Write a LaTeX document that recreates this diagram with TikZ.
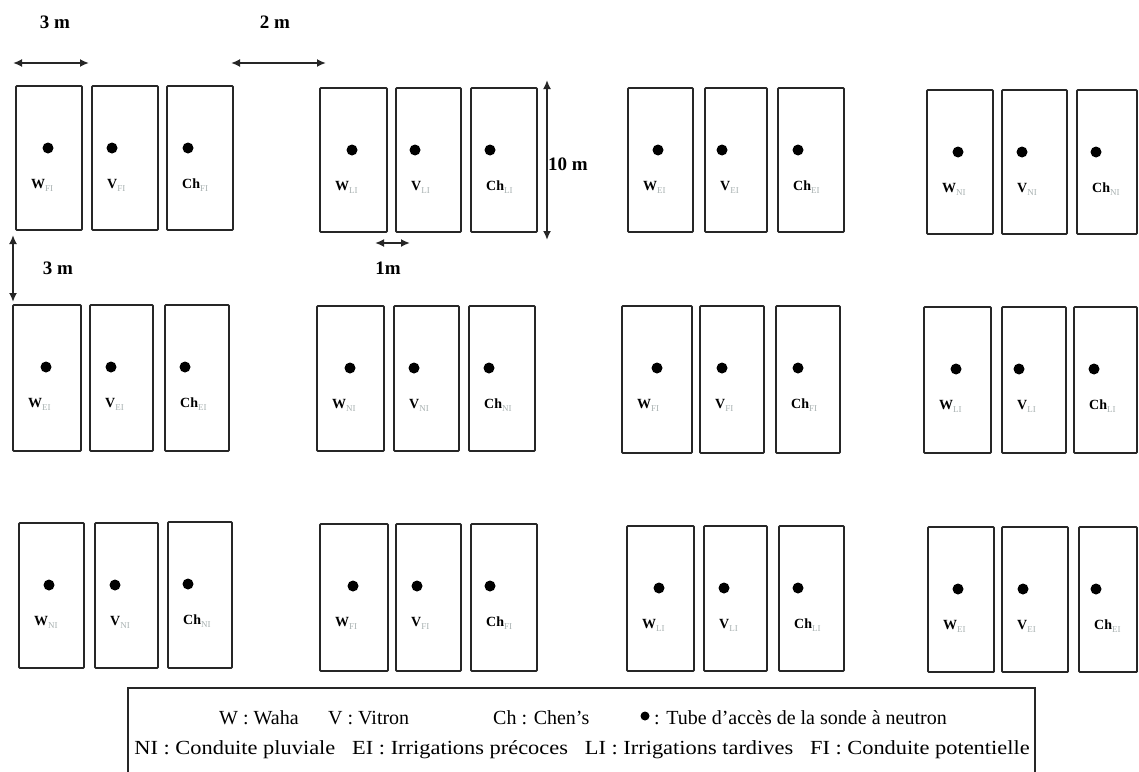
\documentclass[tikz,border=0pt]{standalone}
\usepackage{fontspec}
\setmainfont{Liberation Serif}
\usetikzlibrary{arrows.meta}
\definecolor{linec}{HTML}{262626}
\definecolor{subc}{HTML}{A9B2B2}
\begin{document}
\begin{tikzpicture}[x=1pt,y=-1pt,
  plotbox/.style={draw=linec, line width=1.8pt, inner sep=0pt, rounded corners=0.8pt},
  probe/.style={circle, fill=black, inner sep=0pt, minimum size=11pt},
  plabel/.style={anchor=west, inner sep=0pt, font=\fontsize{14}{14}\selectfont\bfseries},
  dimarrow/.style={draw=linec, line width=2pt, {Latex[length=9pt,width=8pt]}-{Latex[length=9pt,width=8pt]}},
  dimtext/.style={inner sep=0pt, font=\fontsize{19}{19}\selectfont\bfseries},
  legtext/.style={inner sep=0pt, font=\fontsize{20}{20}\selectfont}]
\useasboundingbox (0,0) rectangle (1139,771);
\fill[white] (0,0) rectangle (1139,771);
% plots: x1/y1/x2/y2/kind/sub/dot offset
\foreach \a/\b/\c/\d/\k/\s/\o [count=\i] in {
  16/86/82/230/W/FI/32, 92/86/158/230/V/FI/20, 167/86/233/230/Ch/FI/21,
  320/88/387/232/W/LI/32, 396/88/461/232/V/LI/19, 471/88/537/232/Ch/LI/19,
  628/88/693/232/W/EI/30, 705/88/767/232/V/EI/17, 778/88/844/232/Ch/EI/20,
  927/90/993/234/W/NI/31, 1002/90/1067/234/V/NI/20, 1077/90/1137/234/Ch/NI/19,
  13/305/81/451/W/EI/33, 90/305/153/451/V/EI/21, 165/305/229/451/Ch/EI/20,
  317/306/384/451/W/NI/33, 394/306/459/451/V/NI/20, 469/306/535/451/Ch/NI/20,
  622/306/692/453/W/FI/35, 700/306/764/453/V/FI/22, 776/306/840/453/Ch/FI/22,
  924/307/991/453/W/LI/32, 1002/307/1066/453/V/LI/17, 1074/307/1137/453/Ch/LI/20,
  19/523/84/668/W/NI/30, 95/523/158/668/V/NI/20, 168/522/232/668/Ch/NI/20,
  320/524/388/671/W/FI/33, 396/524/461/671/V/FI/21, 471/524/537/671/Ch/FI/19,
  627/526/694/671/W/LI/32, 704/526/767/671/V/LI/20, 779/526/844/671/Ch/LI/19,
  928/527/994/672/W/EI/30, 1002/527/1068/672/V/EI/21, 1079/527/1137/672/Ch/EI/17}
{
  \pgfmathsetmacro\bw{\c-\a}
  \pgfmathsetmacro\bh{\d-\b}
  \node[plotbox, minimum width=\bw pt, minimum height=\bh pt] (p\i) at ({(\a+\c)/2},{(\b+\d)/2}) {};
  \node[probe] (d\i) at (\a+\o,\b+62) {};
  \node[plabel] (l\i) at (\a+15,\b+99) {\k\raisebox{-3pt}{\fontsize{9}{9}\selectfont\mdseries\color{subc}\s}};
}
% dimensions
\coordinate (h1a) at (13,63); \coordinate (h1b) at (89,63);
\draw[dimarrow] (h1a) -- (h1b);
\node[dimtext] (t1) at (55,22) {3 m};
\coordinate (h2a) at (231,63); \coordinate (h2b) at (326,63);
\draw[dimarrow] (h2a) -- (h2b);
\node[dimtext] (t2) at (275,22) {2 m};
\coordinate (v1a) at (547,80); \coordinate (v1b) at (547,240);
\draw[dimarrow] (v1a) -- (v1b);
\node[dimtext, anchor=west] (t3) at (548,164) {10 m};
\coordinate (h3a) at (375,243); \coordinate (h3b) at (410,243);
\draw[dimarrow] (h3a) -- (h3b);
\node[dimtext] (t4) at (388,268) {1m};
\coordinate (v2a) at (13,235); \coordinate (v2b) at (13,302);
\draw[dimarrow] (v2a) -- (v2b);
\node[dimtext] (t5) at (58,268) {3 m};
% legend
\draw[draw=linec, line width=1.8pt] (128,785) -- (128,688) -- (1035,688) -- (1035,785);
\node[legtext, anchor=west] (lw) at (219,718) {W : Waha};
\node[legtext, anchor=west] (lv) at (328,718) {V : Vitron};
\node[legtext, anchor=west] (lc) at (493,718) {Ch : Chen's};
\node[probe, minimum size=9pt] (ld) at (645,716) {};
\node[legtext, anchor=west] (lt) at (654,718) {: Tube d'accès de la sonde à neutron};
\node[legtext] (l2) at (582,750) {\scalebox{1.12}[1]{NI : Conduite pluviale\hspace{10pt} EI : Irrigations précoces\hspace{10pt} LI : Irrigations tardives\hspace{10pt} FI : Conduite potentielle}};
\end{tikzpicture}
\end{document}
